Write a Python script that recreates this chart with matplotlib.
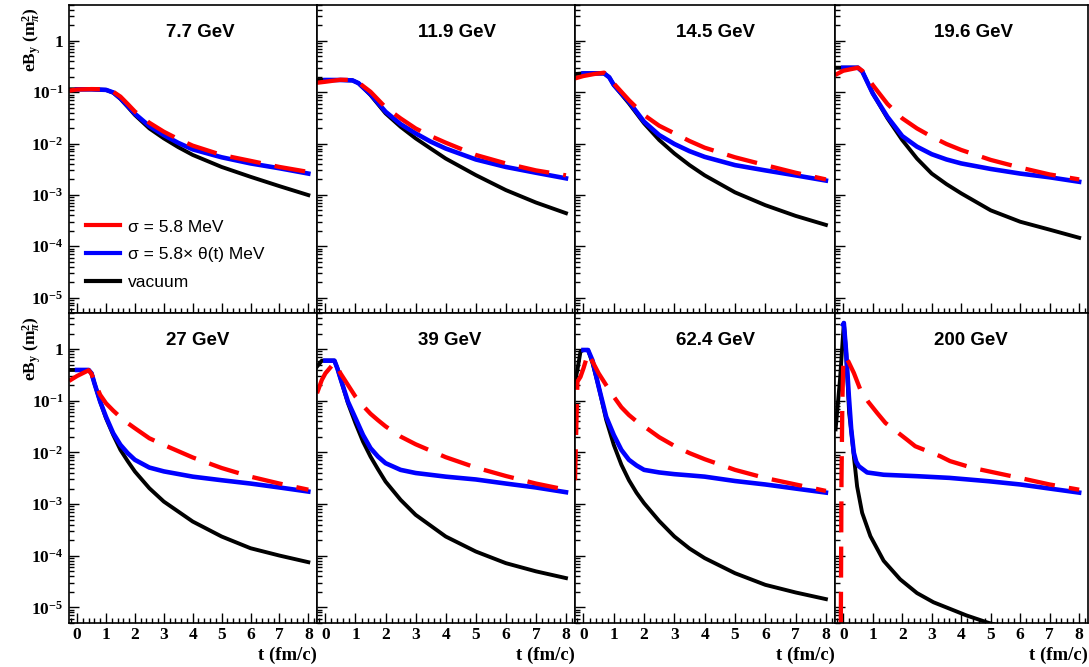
import numpy as np
import matplotlib
matplotlib.use('Agg')
import matplotlib.pyplot as plt
from matplotlib.lines import Line2D
from matplotlib.ticker import MultipleLocator, LogLocator

nan = np.nan

# ---- data (t in fm/c, eB_y in m_pi^2) ----
energies = ['7.7 GeV', '11.9 GeV', '14.5 GeV', '19.6 GeV',
            '27 GeV', '39 GeV', '62.4 GeV', '200 GeV']

t_7p7 = [-0.28, 0, 0.5, 1.0, 1.25, 1.5, 1.75, 2, 2.5, 3, 3.5, 4, 5, 6, 7, 8]
vac_7p7 = [0.114, 0.114, 0.114, 0.111, 0.098, 0.074, 0.052, 0.036, 0.0197, 0.0126, 0.0085, 0.0060, 0.0035, 0.00225, 0.00148, 0.00099]
med_7p7 = [nan, 0.114, 0.114, 0.111, 0.099, 0.076, 0.054, 0.038, 0.0219, 0.0146, 0.0103, 0.0077, 0.0054, 0.0041, 0.0033, 0.0026]
cond_7p7 = [0.107, 0.113, 0.115, 0.114, 0.102, 0.082, 0.059, 0.042, 0.0254, 0.0170, 0.0122, 0.0091, 0.0060, 0.0046, 0.0035, 0.0028]

t_11p9 = [-0.28, 0, 0.5, 0.9, 1.1, 1.25, 1.5, 2, 2.5, 3, 3.5, 4, 5, 6, 7, 8]
vac_11p9 = [0.173, 0.173, 0.173, 0.170, 0.150, 0.124, 0.088, 0.0387, 0.0212, 0.0126, 0.0080, 0.0051, 0.00243, 0.00124, 0.00071, 0.00044]
med_11p9 = [nan, 0.173, 0.173, 0.170, 0.150, 0.124, 0.091, 0.0417, 0.0239, 0.0158, 0.0109, 0.0080, 0.0049, 0.0035, 0.0027, 0.0021]
cond_11p9 = [0.153, 0.160, 0.175, 0.173, 0.155, 0.132, 0.102, 0.0506, 0.0309, 0.0197, 0.0140, 0.0104, 0.0060, 0.0041, 0.0030, 0.0024]

t_14p5 = [-0.28, 0, 0.35, 0.68, 0.85, 1, 1.5, 2, 2.5, 3, 3.5, 4, 5, 6, 7, 8]
vac_14p5 = [0.226, 0.233, 0.233, 0.233, 0.195, 0.138, 0.0606, 0.0247, 0.0117, 0.0064, 0.0038, 0.0024, 0.00112, 0.00063, 0.00039, 0.00026]
med_14p5 = [nan, 0.233, 0.233, 0.233, 0.195, 0.138, 0.065, 0.0266, 0.0146, 0.0098, 0.0071, 0.0055, 0.0038, 0.0030, 0.0024, 0.0019]
cond_14p5 = [0.186, 0.207, 0.226, 0.240, 0.205, 0.148, 0.070, 0.0359, 0.0222, 0.0158, 0.0112, 0.0083, 0.0054, 0.0038, 0.0027, 0.0020]

t_19p6 = [-0.28, 0, 0.5, 0.65, 1, 1.5, 2, 2.5, 3, 3.5, 4, 5, 6, 7, 8]
vac_19p6 = [0.300, 0.300, 0.300, 0.250, 0.095, 0.031, 0.0117, 0.0051, 0.0026, 0.00162, 0.00107, 0.00050, 0.00030, 0.00021, 0.000146]
med_19p6 = [nan, 0.300, 0.300, 0.250, 0.095, 0.033, 0.0140, 0.0087, 0.0062, 0.0049, 0.0041, 0.0032, 0.0026, 0.0022, 0.0018]
cond_19p6 = [0.216, 0.262, 0.300, 0.260, 0.138, 0.059, 0.031, 0.0197, 0.0136, 0.0098, 0.0075, 0.0048, 0.0034, 0.0025, 0.0020]

t_27 = [-0.28, 0, 0.4, 0.5, 0.6, 0.8, 1, 1.25, 1.5, 1.75, 2, 2.5, 3, 4, 5, 6, 7, 8]
vac_27 = [0.395, 0.395, 0.395, 0.340, 0.218, 0.096, 0.046, 0.0218, 0.0112, 0.0068, 0.00427, 0.00203, 0.00112, 0.00046, 0.000236, 0.000140, 0.000101, 0.0000752]
med_27 = [nan, 0.395, 0.395, 0.340, 0.218, 0.096, 0.049, 0.0235, 0.0140, 0.0097, 0.0072, 0.0051, 0.0043, 0.0034, 0.0029, 0.0025, 0.0021, 0.00175]
cond_27 = [0.242, 0.302, 0.390, 0.330, 0.235, 0.130, 0.0895, 0.0645, 0.048, 0.037, 0.0294, 0.0188, 0.0140, 0.0080, 0.0050, 0.0034, 0.0025, 0.0019]

t_39 = [-0.28, -0.12, 0, 0.3, 0.4, 0.5, 0.75, 1, 1.25, 1.5, 1.75, 2, 2.5, 3, 4, 5, 6, 7, 8]
vac_39 = [0.458, 0.598, 0.598, 0.598, 0.420, 0.272, 0.0895, 0.0367, 0.0162, 0.0083, 0.0047, 0.00273, 0.00121, 0.00062, 0.000236, 0.000121, 0.000072, 0.000050, 0.000037]
med_39 = [nan, nan, 0.598, 0.598, 0.420, 0.272, 0.096, 0.046, 0.0218, 0.0121, 0.0083, 0.0062, 0.0046, 0.0040, 0.0034, 0.0030, 0.0025, 0.0021, 0.0017]
cond_39 = [0.140, 0.253, 0.340, 0.547, 0.440, 0.340, 0.202, 0.120, 0.080, 0.056, 0.042, 0.032, 0.0203, 0.0144, 0.0081, 0.0051, 0.0035, 0.0025, 0.0019]

t_62 = [-0.28, -0.2, -0.1, 0, 0.15, 0.3, 0.5, 0.75, 1, 1.25, 1.5, 1.75, 2, 2.5, 3, 3.5, 4, 5, 6, 7, 8]
vac_62 = [0.235, 0.395, 0.894, 0.962, 0.962, 0.531, 0.188, 0.0426, 0.0140, 0.0058, 0.0029, 0.00166, 0.00104, 0.00047, 0.000236, 0.000138, 0.000090, 0.000046, 0.0000274, 0.0000195, 0.0000145]
med_62 = [nan, nan, nan, 0.962, 0.962, 0.60, 0.188, 0.049, 0.0218, 0.0112, 0.0072, 0.0056, 0.0046, 0.0041, 0.0038, 0.0036, 0.0034, 0.0028, 0.0024, 0.0020, 0.00167]
cond_62 = [0.0029, 0.235, 0.29, 0.425, 0.83, 0.57, 0.34, 0.20, 0.12, 0.075, 0.053, 0.040, 0.032, 0.0197, 0.0134, 0.0097, 0.0074, 0.0046, 0.0032, 0.0024, 0.0018]

t_200_vac = [-0.26, -0.11, 0.02, 0.1, 0.2, 0.28, 0.36, 0.47, 0.64, 0.92, 1.37, 1.93, 2.5, 3.06, 4.18, 4.94, 6, 8]
vac_200 = [0.028, 0.26, 3.2, 0.80, 0.058, 0.024, 0.0084, 0.0022, 0.00068, 0.00024, 0.00008, 0.000035, 0.000019, 0.0000126, 0.000007, 0.0000050, 0.0000035, 0.000002]
t_200_med = [0, 0.02, 0.1, 0.19, 0.27, 0.36, 0.44, 0.53, 0.81, 1.37, 2.5, 3.6, 4.94, 6, 7, 8]
med_200 = [3.0, 3.2, 0.84, 0.122, 0.0277, 0.0098, 0.0066, 0.0054, 0.0041, 0.0037, 0.00347, 0.00322, 0.00277, 0.0024, 0.0020, 0.00167]
t_200_cond = [-0.1, -0.08, -0.06, -0.03, 0.0, 0.06, 0.13, 0.36, 0.58, 0.85, 1.15, 1.43, 2.16, 2.44, 3.28, 3.62, 4.4, 4.94, 6, 7, 8]
cond_200 = [1e-7, 1e-5, 0.003, 0.1, 0.5, 0.72, 0.65, 0.345, 0.164, 0.095, 0.058, 0.0373, 0.0177, 0.0132, 0.0085, 0.0068, 0.0050, 0.0043, 0.0032, 0.0024, 0.0019]

legend_labels = ['\u03c3 = 5.8 MeV', '\u03c3 = 5.8\u00d7 \u03b8(t) MeV', 'vacuum']
ytick_vals = [1e-5, 1e-4, 1e-3, 1e-2, 1e-1, 1]
ytick_labels = ['$10^{-5}$', '$10^{-4}$', '$10^{-3}$', '$10^{-2}$', '$10^{-1}$', '1']

panels = [
    (t_7p7, vac_7p7, t_7p7, med_7p7, t_7p7, cond_7p7),
    (t_11p9, vac_11p9, t_11p9, med_11p9, t_11p9, cond_11p9),
    (t_14p5, vac_14p5, t_14p5, med_14p5, t_14p5, cond_14p5),
    (t_19p6, vac_19p6, t_19p6, med_19p6, t_19p6, cond_19p6),
    (t_27, vac_27, t_27, med_27, t_27, cond_27),
    (t_39, vac_39, t_39, med_39, t_39, cond_39),
    (t_62, vac_62, t_62, med_62, t_62, cond_62),
    (t_200_vac, vac_200, t_200_med, med_200, t_200_cond, cond_200),
]

plt.rcParams['font.family'] = 'Liberation Serif'
plt.rcParams['font.weight'] = 'bold'
plt.rcParams['mathtext.fontset'] = 'custom'
plt.rcParams['mathtext.rm'] = 'Liberation Serif:bold'
plt.rcParams['mathtext.it'] = 'Liberation Serif:italic:bold'
plt.rcParams['mathtext.bf'] = 'Liberation Serif:bold'

W, H = 1089, 667
fig = plt.figure(figsize=(W / 100, H / 100), dpi=100)

col_edges = [69, 317, 575, 835, 1088]
row_edges = [(5, 313), (313, 623)]

for i, (tv, v, tm, m, tc, cnd) in enumerate(panels):
    r, c = divmod(i, 4)
    x0, x1 = col_edges[c], col_edges[c + 1]
    y0, y1 = row_edges[r]
    ax = fig.add_axes([x0 / W, 1 - y1 / H, (x1 - x0) / W, (y1 - y0) / H])

    ax.plot(tv, v, color='black', lw=2.8, solid_joinstyle='round')
    ax.plot(tm, m, color='blue', lw=3.3, solid_joinstyle='round')
    ax.plot(tc, cnd, color='red', lw=3.1, dashes=(7.2, 3.3))

    ax.set_yscale('log')
    ax.set_ylim(5e-6, 5)
    ax.set_xlim(-0.28, 8.3)
    ax.xaxis.set_major_locator(MultipleLocator(1))
    ax.xaxis.set_minor_locator(MultipleLocator(0.2))
    ax.set_yticks(ytick_vals)
    ax.yaxis.set_minor_locator(LogLocator(base=10, subs=range(2, 10), numticks=20))
    ax.tick_params(which='both', direction='in', top=False, right=False, width=1)
    ax.tick_params(which='major', length=7)
    ax.tick_params(which='minor', length=3.5)
    ax.tick_params(axis='x', labelsize=12.5, pad=3)
    ax.tick_params(axis='y', labelsize=12.5, pad=4)
    for s in ax.spines.values():
        s.set_linewidth(1.2)

    if c == 0:
        ax.set_yticklabels(ytick_labels)
    else:
        ax.tick_params(axis='y', which='both', labelleft=False)
    if r == 0:
        ax.tick_params(axis='x', which='both', labelbottom=False)

    ax.text(0.39, 0.912, energies[i], transform=ax.transAxes, ha='left', va='center',
            family='Liberation Sans', weight='bold', size=13.5)

    if i == 0:
        handles = [Line2D([], [], color='red', lw=3.0),
                   Line2D([], [], color='blue', lw=3.0),
                   Line2D([], [], color='black', lw=3.0)]
        ax.legend(handles, legend_labels, loc='upper left', bbox_to_anchor=(0.0685, 0.304),
                  frameon=False, prop={'family': 'Liberation Sans', 'size': 12.5, 'weight': 'normal'},
                  handlelength=1.95, handletextpad=0.46, labelspacing=0.73,
                  borderpad=0, borderaxespad=0)

    if r == 1:
        fig.text(x1 / W, 1 - 655 / H, 't (fm/c)', ha='right', va='center', fontsize=13.5)

for top in (7, 316):
    fig.text(32 / W, 1 - top / H, r'eB$_{\mathrm{y}}$ (m$_{\pi}^{2}$)', rotation=90,
             ha='center', va='top', fontsize=12.5)

fig.savefig('out.png', dpi=100)
